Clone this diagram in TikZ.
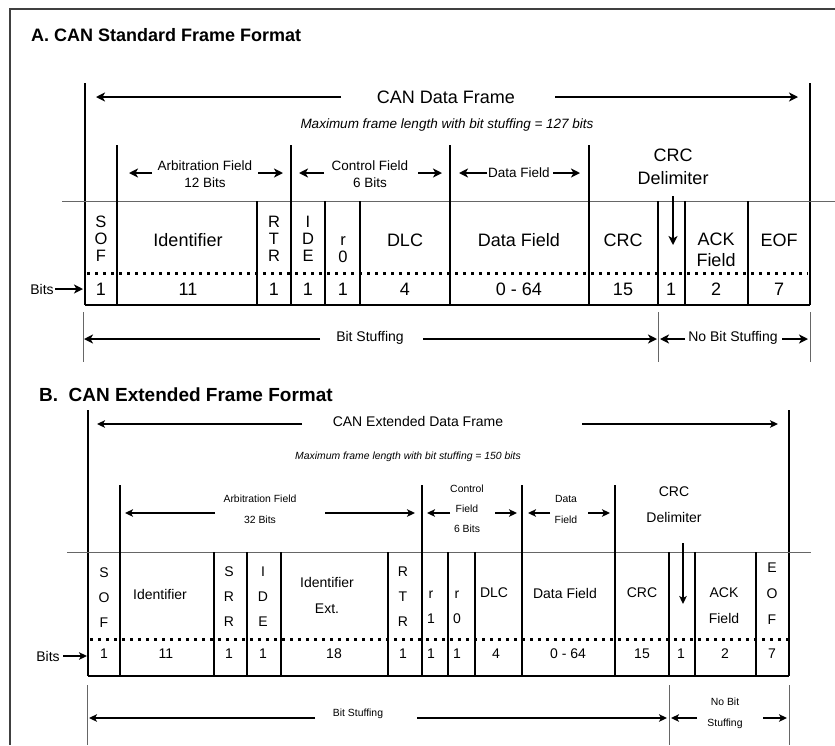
\documentclass[tikz,border=0pt]{standalone}
\usepackage{fontspec}
\setmainfont{Liberation Sans}
\usetikzlibrary{arrows.meta}
\newcommand{\fsz}[2]{\fontsize{#1}{#2}\selectfont}

\begin{document}
\begin{tikzpicture}[x=1pt,y=-1pt,
  every node/.style={inner sep=0pt,align=center},
  arr/.style={-{Stealth[length=9pt,width=9pt,inset=2.5pt]},line width=1.8pt},
  arrb/.style={-{Stealth[length=8pt,width=7.5pt,inset=2pt]},line width=1.4pt},
  cella/.style={line width=2pt},
  cellb/.style={line width=1.5pt},
  gray/.style={draw=black!60,line width=1pt},
  dots/.style={line width=3pt,dash pattern=on 3pt off 5pt},
  biga/.style={font=\fsz{18}{21}},
  stacka/.style={font=\fsz{16.5}{17}},
  smalla/.style={font=\fsz{13.5}{17}},
  bigb/.style={font=\fsz{14}{26}},
  stackb/.style={font=\fsz{14}{25}},
  smallb/.style={font=\fsz{10.4}{21}}]
\useasboundingbox (0,0) rectangle (835,745);
\draw[draw=black!75,line width=1.4pt] (835,9) -- (10,9) -- (10,745);

% ---------- A. standard frame
\node[font=\bfseries\fsz{18}{20},anchor=west] (atitle) at (31,35) {A. CAN Standard Frame Format};
\node[biga] (aframe) at (446,97) {CAN Data Frame};
\node[font=\itshape\fsz{13.5}{16}] (amax) at (447,125) {Maximum frame length with bit stuffing = 127 bits};
\node[smalla] (aarb) at (205,174) {Arbitration Field\\12 Bits};
\node[smalla] (actl) at (370,174) {Control Field\\6 Bits};
\node[smalla] (adat) at (519,173) {Data Field};
\node[font=\fsz{18}{23}] (acrc) at (673,167) {CRC\\Delimiter};

\coordinate (aL) at (85,83); \coordinate (aR) at (810,83);
\draw[cella] (aL) -- (85,305) (aR) -- (810,305);
\foreach \x in {117,291,450,589} \draw[cella] (\x,145) -- (\x,201);
\draw[gray] (62,201) -- (835,201);
\foreach \x in {117,257,291,325,360,450,589,658,685,748} \draw[cella] (\x,201) -- (\x,305);
\draw[cella] (85,305) -- (810,305);
\draw[dots] (87,273) -- (808,273);

\draw[arr] (341,97) -- (96,97);
\draw[arr] (555,97) -- (798,97);
\draw[arr] (152,173) -- (129,173);
\draw[arr] (258,173) -- (283,173);
\draw[arr] (324,173) -- (299,173);
\draw[arr] (418,173) -- (442,173);
\draw[arr] (487,173) -- (459,173);
\draw[arr] (553,173) -- (580,173);
\draw[arr] (673,196) -- (673,245);

\node[stacka] (asof) at (101,239) {S\\O\\F};
\node[biga] (aid) at (188,240) {Identifier};
\node[stacka] (artr) at (274,239) {R\\T\\R};
\node[stacka] (aide) at (308,239) {I\\D\\E};
\node[stacka] (ar0) at (343,250) {r\\0};
\node[biga] (adlc) at (405,240) {DLC};
\node[biga] (adf) at (519,240) {Data Field};
\node[biga] (acrcf) at (623,240) {CRC};
\node[biga] (aack) at (716,250) {ACK\\Field};
\node[biga] (aeof) at (779,240) {EOF};
\foreach \x/\n in {101/1,188/11,274/1,308/1,343/1,405/4,519/0 - 64,623/15,671/1,716/2,779/7}
  \node[biga] at (\x,289) {\n};
\node[font=\fsz{14}{16}] (abits) at (42,289) {Bits};
\draw[arr] (55,289) -- (83,289);

\foreach \x in {83,658,810} \draw[gray] (\x,312) -- (\x,362);
\node[font=\fsz{14}{16}] (astuff) at (370,338) {Bit Stuffing};
\node[font=\fsz{14}{16}] (anostuff) at (733,338) {No Bit Stuffing};
\draw[arr] (320,339) -- (84,339);
\draw[arr] (423,339) -- (657,339);
\draw[arr] (685,339) -- (660,339);
\draw[arr] (782,339) -- (808,339);

% ---------- B. extended frame
\node[font=\bfseries\fsz{19}{21},anchor=west] (btitle) at (39,395) {B.\ \ CAN Extended Frame Format};
\node[font=\fsz{14}{16}] (bframe) at (418,421) {CAN Extended Data Frame};
\node[font=\itshape\fsz{10.4}{12}] (bmax) at (408,457) {Maximum frame length with bit stuffing = 150 bits};
\node[smallb] (barb) at (260,509) {Arbitration Field\\32 Bits};
\node[font=\fsz{10.4}{20}] (bctl) at (467,509) {Control\\Field\\6 Bits};
\node[smallb] (bdat) at (566,509) {Data\\Field};
\node[bigb] (bcrc) at (674,505) {CRC\\Delimiter};

\coordinate (bL) at (88,410); \coordinate (bR) at (789,410);
\draw[cellb] (bL) -- (88,676) (bR) -- (789,676);
\foreach \x in {120,422,522,615} \draw[cellb] (\x,485) -- (\x,552);
\draw[gray] (67,552) -- (811,552);
\foreach \x in {120,214,247,281,388,422,448,475,522,615,669,695,756} \draw[cellb] (\x,552) -- (\x,676);
\draw[cellb] (88,676) -- (789,676);
\draw[dots] (90,639) -- (788,639);

\draw[arrb] (302,424) -- (97,424);
\draw[arrb] (582,424) -- (778,424);
\draw[arrb] (215,513) -- (125,513);
\draw[arrb] (325,513) -- (415,513);
\draw[arrb] (450,513) -- (427,513);
\draw[arrb] (495,513) -- (517,513);
\draw[arrb] (550,513) -- (528,513);
\draw[arrb] (588,513) -- (610,513);
\draw[arrb] (683,543) -- (683,604);

\node[stackb] (bsof) at (104,598) {S\\O\\F};
\node[bigb] (bid) at (160,594) {Identifier};
\node[stackb] (bsrr) at (229,597) {S\\R\\R};
\node[stackb] (bide) at (263,597) {I\\D\\E};
\node[bigb] (bidx) at (327,595) {Identifier\\Ext.};
\node[stackb] (brtr) at (403,597) {R\\T\\R};
\node[stackb] (br1) at (431,607) {r\\1};
\node[stackb] (br0) at (457,607) {r\\0};
\node[bigb] (bdlc) at (494,593) {DLC};
\node[bigb] (bdf) at (565,593) {Data Field};
\node[bigb] (bcrcf) at (642,593) {CRC};
\node[bigb] (back) at (724,606) {ACK\\Field};
\node[font=\fsz{14}{26}] (beof) at (772,594) {E\\O\\F};
\foreach \x/\n in {104/1,166/11,229/1,263/1,334/18,403/1,431/1,457/1,496/4,568/0 - 64,642/15,681/1,725/2,772/7}
  \node[bigb] at (\x,654) {\n};
\node[font=\fsz{14}{16}] (bbits) at (48,656) {Bits};
\draw[arrb] (63,656) -- (87,656);

\foreach \x in {87,669,789} \draw[gray] (\x,685) -- (\x,745);
\node[smallb] (bstuff) at (358,714) {Bit Stuffing};
\node[smallb] (bnostuff) at (725,713) {No Bit\\Stuffing};
\draw[arrb] (315,718) -- (89,718);
\draw[arrb] (417,718) -- (667,718);
\draw[arrb] (697,718) -- (671,718);
\draw[arrb] (763,718) -- (787,718);
\end{tikzpicture}
\end{document}
